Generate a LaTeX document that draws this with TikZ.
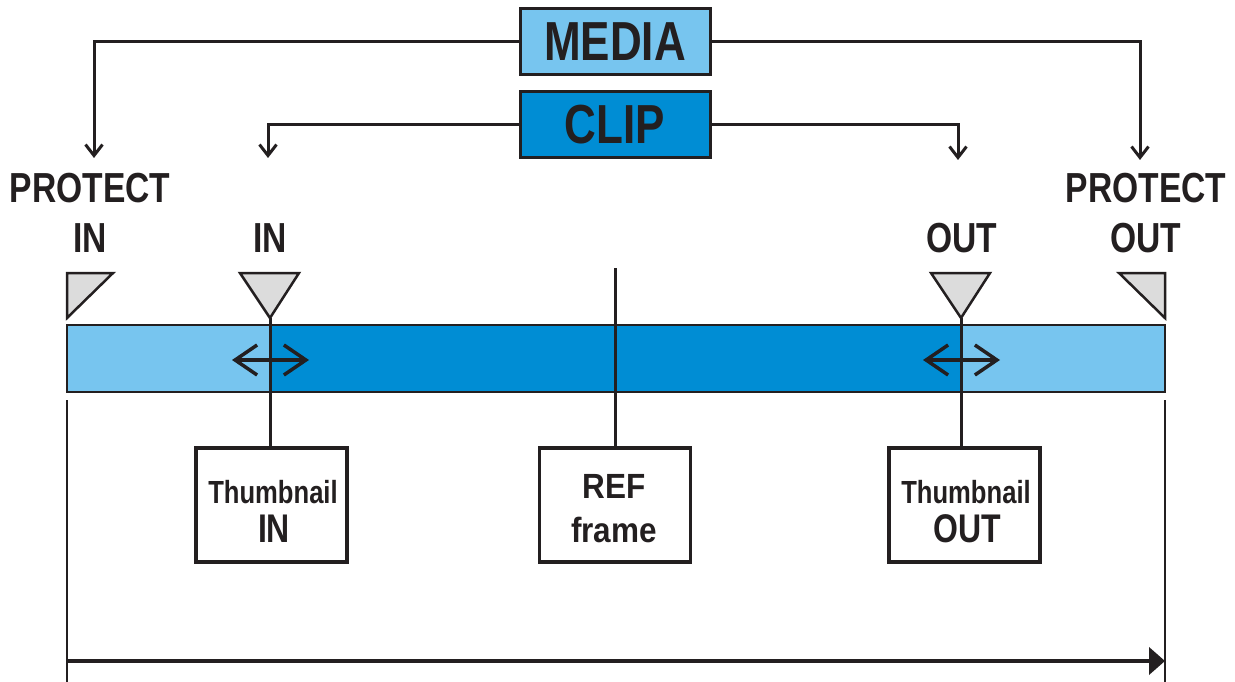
\documentclass[tikz,border=0pt]{standalone}
\usepackage{fontspec}
\setmainfont{Liberation Sans}
\newfontfamily\nf{Liberation Sans}[FakeStretch=0.8]
\newfontfamily\mf{Liberation Sans}[FakeStretch=0.9]
\usetikzlibrary{arrows.meta}
\definecolor{lblue}{HTML}{77C5EF}
\definecolor{dblue}{HTML}{008DD4}
\definecolor{tgray}{HTML}{DCDCDC}
\definecolor{ink}{HTML}{231F20}
\tikzset{
  topbox/.style={draw=ink, line width=3pt, minimum width=190pt, minimum height=66pt, inner sep=0pt, text=ink, font=\nf\bfseries\fontsize{55}{60}\selectfont},
  framebox/.style={draw=ink, line width=3.5pt, minimum width=151pt, minimum height=114pt, inner sep=0pt},
  lbl/.style={font=\nf\bfseries\fontsize{42}{46}\selectfont, text=ink, inner sep=0pt, anchor=base},
  smalllbl/.style={font=\nf\bfseries\fontsize{32}{36}\selectfont, text=ink, inner sep=0pt, anchor=base},
  reflbl/.style={font=\mf\bfseries\fontsize{35}{40}\selectfont, text=ink, inner sep=0pt, anchor=base},
  conn/.style={draw=ink, line width=3pt, -{Straight Barb[length=11pt,width=17pt,line width=3pt]}},
  dbl/.style={draw=ink, line width=3.5pt, {Straight Barb[length=22pt,width=30pt,line width=3.5pt]}-{Straight Barb[length=22pt,width=30pt,line width=3.5pt]}},
  tri/.style={draw=ink, fill=tgray, line width=2.5pt, line join=miter},
  thinline/.style={draw=ink, line width=1.5pt},
  midline/.style={draw=ink, line width=3pt},
}
\begin{document}
\begin{tikzpicture}[x=1pt,y=-1pt]
\useasboundingbox (0,0) rectangle (1235,682);
% top boxes
\node[topbox, fill=lblue] (media) at (615,42) {MEDIA};
\node[topbox, fill=dblue] (clip) at (615,125) {CLIP};
% labels
\node[lbl] (pinA) at (90,203) {PROTECT};
\node[lbl] (pinB) at (90,252) {IN};
\node[lbl] (inl) at (270,252) {IN};
\node[lbl] (outl) at (962,252) {OUT};
\node[lbl] (poutA) at (1146,203) {PROTECT};
\node[lbl] (poutB) at (1146,252) {OUT};
% arrow targets
\coordinate (pinT) at (94,158);
\coordinate (inT) at (268,158);
\coordinate (outT) at (958,160);
\coordinate (poutT) at (1140,160);
\draw[conn] (media.west) -| (pinT);
\draw[conn] (media.east) -| (poutT);
\draw[conn] (clip.west) -| (inT);
\draw[conn] (clip.east) -| (outT);
% bar
\fill[lblue] (67,325) rectangle (1165,392);
\fill[dblue] (270,325) rectangle (961,392);
\draw[ink, line width=2.5pt] (67,325) rectangle (1165,392);
% triangles
\coordinate (inapex) at (270,318);
\coordinate (outapex) at (961,318);
\draw[tri] (67,273) -- (113,273) -- (67,318) -- cycle;
\draw[tri] (240,273) -- (299,273) -- (inapex) -- cycle;
\draw[tri] (931,273) -- (990,273) -- (outapex) -- cycle;
\draw[tri] (1119,273) -- (1165,273) -- (1165,318) -- cycle;
% lower boxes
\node[framebox] (thin) at (271.5,505) {};
\node[framebox] (ref) at (615,505) {};
\node[framebox] (thout) at (964.5,505) {};
\node[smalllbl] (thinA) at (273,503) {Thumbnail};
\node[lbl, font=\nf\bfseries\fontsize{40}{44}\selectfont] (thinB) at (274,542) {IN};
\node[reflbl] (refA) at (614,498) {REF};
\node[reflbl] (refB) at (614,542) {frame};
\node[smalllbl] (thoutA) at (966,503) {Thumbnail};
\node[lbl, font=\nf\bfseries\fontsize{40}{44}\selectfont] (thoutB) at (967,542) {OUT};
% vertical lines
\coordinate (reftop) at (615,268);
\draw[midline] (inapex) -- (inapex |- thin.north);
\draw[midline] (outapex) -- (outapex |- thout.north);
\draw[midline] (reftop) -- (reftop |- ref.north);
% double arrows
\coordinate (inL) at (232,360);
\coordinate (inR) at (309,360);
\coordinate (outL) at (923,360);
\coordinate (outR) at (1000,360);
\draw[dbl] (inL) -- (inR);
\draw[dbl] (outL) -- (outR);
% bottom
\coordinate (bl) at (67,400);
\coordinate (br) at (1165,400);
\coordinate (blb) at (67,682);
\coordinate (brb) at (1165,682);
\draw[thinline] (bl) -- (blb);
\draw[thinline] (br) -- (brb);
\coordinate (aL) at (67,661);
\coordinate (aR) at (1165,661);
\draw[draw=ink, line width=4pt, -{Triangle[length=16pt,width=27pt]}] (aL) -- (aR);
\end{tikzpicture}
\end{document}
